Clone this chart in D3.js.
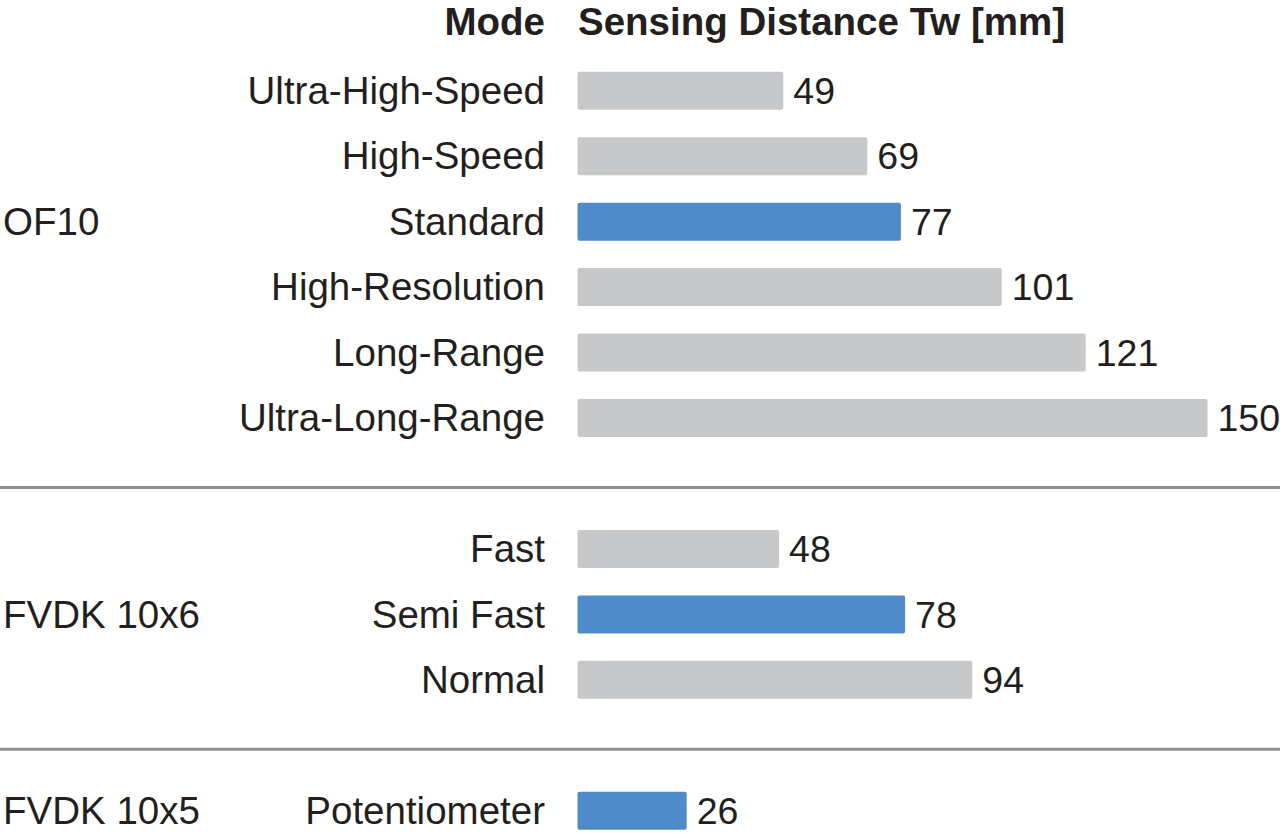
<!DOCTYPE html>
<html>
<head>
<meta charset="utf-8">
<script src="https://cdn.jsdelivr.net/npm/d3@7"></script>
<style>
  html, body { margin: 0; padding: 0; background: #fff; }
  svg { display: block; }
  text { font-family: "Liberation Sans", Arial, Helvetica, sans-serif; fill: #231f20; }
</style>
</head>
<body>
<svg id="chart" width="1280" height="838"></svg>
<script>
// ---- data ----
const groups = ["OF10", "FVDK 10x6", "FVDK 10x5"];
const modes = [
  "Ultra-High-Speed", "High-Speed", "Standard", "High-Resolution", "Long-Range", "Ultra-Long-Range",
  "Fast", "Semi Fast", "Normal",
  "Potentiometer"
];
const modeGroup = [0, 0, 0, 0, 0, 0, 1, 1, 1, 2];
const distances = [49, 69, 77, 101, 121, 150, 48, 78, 94, 26];
const highlighted = [false, false, true, false, false, false, false, true, false, true];
const headerMode = "Mode";
const headerValue = "Sensing Distance Tw [mm]";

// ---- layout ----
const W = 1280, H = 838;
const fontSize = 38.5;
const valFontSize = 37.5;
const svg = d3.select("#chart");

// build row list with spacer rows between groups
const rows = [];
modes.forEach((m, i) => {
  if (i > 0 && modeGroup[i] !== modeGroup[i - 1]) rows.push({ spacer: true, key: "gap" + i });
  rows.push({ spacer: false, key: m, mode: m, value: distances[i], hl: highlighted[i], group: modeGroup[i] });
});

const y = d3.scaleBand()
  .domain(rows.map(r => r.key))
  .range([58, 843.5])
  .paddingInner(0.42)
  .paddingOuter(0.21);

const x = d3.scaleLinear().domain([0, 150]).range([577.5, 1207.5]);

const colorGray = "#c7c8ca";
const colorBlue = "#4f8bc9";

// separators
const spacers = rows.filter(r => r.spacer);
svg.selectAll("line.sep").data(spacers).enter().append("line")
  .attr("class", "sep")
  .attr("x1", 0).attr("x2", W)
  .attr("y1", d => y(d.key) + y.bandwidth() / 2 + 4)
  .attr("y2", d => y(d.key) + y.bandwidth() / 2 + 4)
  .attr("stroke", "#8e9193")
  .attr("stroke-width", 3);

const dataRows = rows.filter(r => !r.spacer);

// bars
svg.selectAll("rect.bar").data(dataRows).enter().append("rect")
  .attr("class", "bar")
  .attr("x", x(0))
  .attr("y", d => y(d.key))
  .attr("width", d => x(d.value) - x(0))
  .attr("height", y.bandwidth())
  .attr("rx", 2).attr("ry", 2)
  .attr("fill", d => d.hl ? colorBlue : colorGray);

const baseOff = 13.2;

// mode labels
svg.selectAll("text.mode").data(dataRows).enter().append("text")
  .attr("class", "mode")
  .attr("x", 545)
  .attr("y", d => y(d.key) + y.bandwidth() / 2 + baseOff)
  .attr("text-anchor", "end")
  .attr("font-size", fontSize)
  .text(d => d.mode);

// value labels
svg.selectAll("text.val").data(dataRows).enter().append("text")
  .attr("class", "val")
  .attr("x", d => x(d.value) + 10)
  .attr("y", d => y(d.key) + y.bandwidth() / 2 + baseOff)
  .attr("font-size", valFontSize)
  .text(d => d.value);

// group labels
groups.forEach((g, gi) => {
  const gr = dataRows.filter(r => r.group === gi);
  const ys = gr.map(r => y(r.key) + y.bandwidth() / 2);
  const mid = (d3.min(ys) + d3.max(ys)) / 2;
  const hlRow = gr.find(r => r.hl);
  const cy = hlRow ? y(hlRow.key) + y.bandwidth() / 2 : mid;
  svg.append("text")
    .attr("x", 3)
    .attr("y", cy + baseOff)
    .attr("font-size", fontSize)
    .text(g);
});

// headers
svg.append("text")
  .attr("x", 545).attr("y", 34.5)
  .attr("text-anchor", "end")
  .attr("font-size", fontSize)
  .attr("font-weight", "bold")
  .text(headerMode);
svg.append("text")
  .attr("x", 578).attr("y", 34.5)
  .attr("font-size", fontSize)
  .attr("font-weight", "bold")
  .text(headerValue);
</script>
</body>
</html>
